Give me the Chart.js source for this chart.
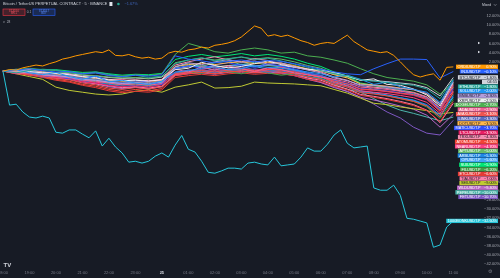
<!DOCTYPE html>
<html>
<head>
<meta charset="utf-8">
<script src="https://cdn.jsdelivr.net/npm/chart.js@4"></script>
<style>
  html, body { margin: 0; padding: 0; background: #171b25; }
  canvas { display: block; }
</style>
</head>
<body>
<canvas id="chart" width="500" height="278"></canvas>
<script>
// time axis: 18:00 -> 11:00 next day, one label per hour ("25" = midnight)
const hourLabels = ['18:00','19:00','20:00','21:00','22:00','23:00','25','01:00','02:00','03:00',
                    '04:00','05:00','06:00','07:00','08:00','09:00','10:00','11:00'];

// % change since 18:00; most series sampled every 30 min (35 values),
// the two outliers every 15 min (69 values)
const ordi  = [0,0.3,0.2,0.7,1.0,1.3,1.1,1.6,2.0,2.6,2.9,3.3,3.6,3.9,4.2,4.0,4.6,3.4,3.3,3.6,3.1,2.8,3.0,
               2.6,2.8,3.9,4.3,4.1,4.6,4.8,5.2,5.0,5.6,5.8,6.1,6.6,7.4,8.6,9.8,9.3,7.6,7.9,7.5,7.8,7.2,6.6,
               6.2,5.6,6.0,6.2,6.0,6.9,7.8,6.4,5.5,4.6,4.3,4.0,4.2,3.4,2.0,0.5,-0.8,-1.3,-0.9,-0.6,-2.0,0.8,0.9];
const inj   = [0,0.2,0.5,0.1,-0.2, -0.1,-0.6,-0.4,-1.0,-1.2, -0.9,-1.1,-0.8,3.3,2.6, 2.2,1.8,2.1,2.4,2.0, 2.3,2.1,1.6,1.0,0.4, -0.2,-0.6,-0.8,0.5,1.6, 2.6,2.6,2.5,-1.5,-0.1];
const btc   = [0,-0.1,0.2,-0.3,-0.4, -0.6,-0.9,-1.1,-1.4,-1.6, -1.5,-1.7,-1.3,0.6,0.9, 1.1,0.9,1.2,1.4,1.1, 1.3,1.2,0.8,0.3,0.0, -0.7,-1.1,-2.0,-2.1,-2.3, -2.6,-2.9,-3.6,-5.4,-1.4];
const eth   = [0,-0.4,0.1,0.4,0.2, -0.3,-0.6,-0.2,-0.7,-1.3, -0.9,-1.4,-1.1,1.6,2.4, 2.9,2.2,2.6,3.1,2.5, 2.8,2.2,1.5,0.8,0.1, -0.6,-1.0,-1.9,-2.2,-2.5, -2.8,-3.1,-3.9,-6.0,-1.8];
const sol   = [0,0.3,-0.4,-0.8,-0.3, -1.2,-1.8,-1.1,-2.3,-2.0, -2.6,-2.9,-2.2,-0.2,0.1, 0.6,0.9,0.3,0.5,1.2, 0.8,0.6,0.2,-0.2,-0.6, -1.3,-0.9,-1.8,-2.9,-2.4, -3.4,-4.0,-4.6,-6.8,-2.0];
const bnb   = [0,-0.2,-0.3,-0.8,-1.0, -1.3,-1.8,-2.0,-2.4,-2.7, -2.5,-2.8,-2.3,0.9,1.8, 1.4,2.0,2.5,1.9,2.2, 1.5,1.8,0.9,0.2,-0.4, -1.5,-2.1,-3.0,-3.1,-3.4, -3.8,-4.0,-4.9,-7.1,-2.3];
const xrp   = [0,0.1,-0.1,-0.4,-0.5, -0.8,-1.2,-1.5,-1.9,-2.1, -2.0,-2.2,-1.9,0.3,0.6, 1.9,1.2,0.7,1.0,1.6, 2.2,1.4,0.9,0.4,0.2, -0.3,-1.1,-2.0,-1.7,-2.9, -3.1,-3.9,-5.2,-7.6,-2.5];
const doge  = [0,0.3,0.6,0.3,0.1, -0.2,-0.5,-0.4,-0.9,-1.1, -0.8,-1.0,-0.6,3.6,6.0, 5.2,4.2,3.9,4.6,5.0, 4.6,3.9,4.1,3.3,3.0, 2.4,1.7,0.5,-0.6,-1.4, -1.8,-2.2,-3.0,-5.0,-2.7];
const ada   = [0,-0.5,-0.4,-0.9,-1.2, -1.4,-2.0,-2.2,-2.6,-3.0, -2.8,-3.1,-2.7,0.4,-0.2, 0.9,0.2,1.1,0.5,-0.1, 0.7,0.3,-0.4,-0.8,-1.3, -1.8,-2.4,-3.5,-3.7,-4.0, -4.4,-4.7,-5.6,-8.0,-2.9];
const avax  = [0,-0.3,-0.7,-1.2,-1.6, -1.9,-2.6,-3.0,-3.7,-4.0, -3.6,-3.9,-3.4,-0.6,-0.2, 0.1,-0.2,0.2,0.4,0.1, 0.3,0.2,-0.2,-0.9,-1.3, -2.2,-2.8,-3.9,-4.1,-4.4, -4.8,-5.1,-6.0,-8.6,-3.1];
const link  = [0,0.2,0.0,-0.5,-0.9, -1.0,-1.5,-1.8,-2.2,-2.5, -2.3,-2.6,-2.2,-0.4,0.0, 0.3,-0.2,0.4,0.9,0.3, -0.3,0.2,0.0,-0.6,-0.9, -1.9,-2.9,-3.0,-4.1,-3.6, -4.0,-5.2,-5.9,-7.2,-3.3];
const dot   = [0,-0.1,-0.4,-0.7,-0.6, -1.1,-1.3,-1.7,-2.1,-2.2, -2.4,-2.5,-2.1,1.0,1.4, 1.7,1.4,1.8,2.0,1.6, 1.9,1.7,1.2,0.4,0.1, -0.8,-1.5,-2.8,-3.0,-3.3, -3.7,-4.1,-5.0,-7.3,-3.5];
const matic = [0,-0.2,-0.6,-1.3,-0.9, -1.8,-1.4,-1.1,-2.0,-2.8, -2.1,-2.4,-2.9,0.5,1.1, 0.7,1.3,1.8,1.2,0.8, 1.5,1.1,0.5,-0.3,-1.0, -2.0,-2.7,-3.8,-4.0,-4.3, -4.7,-5.0,-5.9,-8.3,-3.7];
const ltc   = [0,-0.6,-0.5,-1.0,-1.4, -1.7,-2.3,-2.6,-3.1,-3.4, -3.2,-3.5,-3.0,-0.3,0.1, 0.3,0.0,0.4,0.6,0.2, 0.5,0.3,-0.1,-0.8,-1.2, -2.1,-2.8,-4.0,-4.2,-4.5, -4.9,-5.3,-6.2,-8.8,-3.9];
const trx   = [0,0.1,0.3,-0.2,-0.6, -0.7,-1.2,-1.4,-1.8,-2.0, -1.9,-2.1,-1.8,1.3,2.0, 2.6,3.1,2.4,2.0,2.7, 2.3,1.6,1.0,0.5,-0.2, -1.3,-2.0,-3.2,-3.5,-3.8, -4.3,-4.7,-5.7,-8.1,-4.3];
const atom  = [0,-0.4,-0.8,-1.3,-1.8, -2.2,-2.9,-3.3,-4.0,-4.4, -4.0,-4.3,-3.8,-1.0,-0.6, -0.3,-0.6,-0.2,0.0,-0.3, -0.1,-0.2,-0.6,-1.3,-1.8, -2.8,-3.5,-4.7,-5.0,-5.4, -6.0,-6.6,-7.6,-10.0,-4.5];
const near  = [0,-0.2,-0.9,-0.5,-1.4, -1.0,-1.7,-2.6,-2.1,-1.8, -2.5,-2.2,-2.0,-0.8,-0.4, 0.4,0.9,0.2,0.6,-0.2, 0.3,0.8,0.1,-0.7,-1.2, -2.5,-3.2,-4.3,-4.6,-4.9, -5.3,-5.8,-6.8,-9.2,-4.7];
const apt   = [0,0.4,0.2,-0.1,-0.4, -0.3,-0.8,-1.0,-1.3,-1.5, -1.4,-1.6,-1.2,1.8,2.4, 2.8,2.4,2.7,3.0,2.6, 2.9,2.6,2.0,1.2,0.6, -0.5,-1.3,-2.8,-3.2,-3.6, -4.1,-4.6,-5.6,-8.0,-5.0];
const arb   = [0,-0.3,-0.6,-1.0,-1.5, -1.5,-2.1,-2.5,-2.9,-3.3, -3.1,-3.4,-2.9,-0.5,-0.1, 0.0,-0.3,0.1,0.3,-0.1, 0.2,0.0,-0.4,-1.2,-1.7, -2.7,-3.5,-4.6,-4.9,-5.3, -5.8,-6.3,-7.3,-9.6,-5.3];
const op    = [0,-0.1,-0.2,-0.7,-0.9, -1.2,-1.6,-2.1,-2.5,-2.8, -2.6,-2.9,-2.5,0.6,1.2, 0.8,0.2,0.9,1.5,1.0, 0.4,0.9,0.3,-0.5,-1.0, -2.3,-3.1,-4.3,-4.7,-5.2, -5.8,-6.4,-7.5,-9.9,-5.6];
const sui   = [0,0.2,0.5,0.2,0.3, 0.0,-0.3,-0.2,-0.6,-0.9, -0.7,-0.8,-0.5,2.5,3.2, 3.6,3.1,3.4,3.8,3.3, 3.6,3.2,2.6,1.7,1.0, -0.2,-1.1,-2.6,-3.1,-3.6, -4.3,-4.9,-6.0,-8.5,-5.9];
const fil   = [0,-0.4,-0.3,-0.9,-1.0, -1.4,-1.9,-2.3,-2.8,-3.0, -2.9,-3.2,-2.8,-0.6,-0.2, -0.5,0.3,-0.1,-0.6,0.1, -0.4,-0.9,-0.6,-1.2,-1.6, -2.5,-3.3,-4.5,-4.9,-5.4, -6.0,-6.6,-7.8,-10.3,-6.2];
const etc   = [0,-0.5,-0.9,-1.4,-2.0, -2.4,-3.1,-3.6,-4.3,-4.7, -4.4,-4.6,-4.1,-1.4,-1.0, -0.7,-1.0,-0.6,-0.4,-0.7, -0.5,-0.6,-1.0,-1.8,-2.3, -3.3,-4.1,-5.3,-5.7,-6.2, -6.8,-7.5,-8.6,-11.0,-6.6];
const tia   = [0,-0.3,-0.4,-1.0,-1.3, -1.6,-2.2,-2.7,-3.2,-3.6, -3.4,-3.7,-3.3,-0.8,-0.4, -0.2,-0.5,-0.1,0.1,-0.3, 0.0,-0.2,-0.6,-1.5,-2.0, -3.1,-3.9,-5.1,-5.5,-6.0, -6.6,-7.3,-8.5,-11.2,-7.0];
const sei   = [0,-0.6,-1.2,-1.8,-3.5, -4.2,-4.6,-5.0,-5.2,-5.0, -4.4,-4.1,-4.6,-3.5,-3.0, -2.4,-3.7,-3.6,-3.3,-2.4, -2.6,-2.7,-2.8,-3.0,-3.2, -4.0,-4.8,-5.9,-7.0,-7.3, -7.8,-8.2,-8.6,-9.3,-9.0];
const wld   = [0,-0.2,-0.7,-1.1,-1.5, -1.8,-2.4,-2.8,-3.4,-3.8, -3.5,-3.9,-3.4,-1.0,-0.6, -0.4,-0.7,-0.3,-0.1,-0.4, -0.2,-0.5,-1.0,-1.8,-2.5, -3.6,-4.4,-5.7,-6.3,-6.9, -7.6,-8.3,-9.6,-12.2,-9.4];
const pepe  = [0,0.1,-0.3,-0.6,-0.8, -1.2,-1.7,-1.9,-2.4,-2.6, -2.5,-2.8,-2.4,0.9,1.6, 1.0,1.8,2.2,1.4,1.9, 1.2,0.9,0.2,-0.6,-1.6, -2.9,-4.0,-4.6,-6.0,-7.4, -8.5,-9.2,-10.0,-10.8,-10.0];
const fet   = [0,-0.3,-0.5,-0.8,-1.2, -1.4,-1.9,-2.2,-2.7,-3.0, -2.8,-3.0,-2.6,-0.8,0.3, -0.3,0.6,0.1,-0.4,0.5, 0.0,-0.4,-0.9,-1.5,-2.4, -3.4,-4.5,-5.7,-7.2,-8.9, -10.2,-12.2,-13.5,-13.9,-10.7];
const bonk  = [0,-7.4,-7.2,-8.9,-10.0,-10.2,-9.8,-10.2,-13.3,-13.5,-12.8,-12.8,-13.7,-14.5,-13.0,-16.3,
               -14.6,-16.5,-17.8,-19.8,-19.6,-20.0,-19.6,-18.5,-17.8,-18.7,-16.1,-14.0,-17.0,-17.6,-19.6,
               -22.0,-22.2,-21.7,-21.1,-21.1,-21.3,-20.0,-19.8,-20.2,-20.4,-18.7,-20.6,-20.4,-20.2,-18.7,
               -16.7,-17.4,-17.4,-15.9,-13.9,-12.8,-15.7,-16.7,-16.5,-16.3,-25.4,-25.9,-25.9,-24.8,-27.0,
               -32.0,-32.2,-32.6,-33.0,-38.3,-37.8,-33.9,-32.6];

const MAIN = 'BTCUSDT.P';

// [symbol, values, line colour]
const seriesList = [
  ['ORDIUSDT.P', ordi, '#ff9800'],
  ['INJUSDT.P', inj, '#2962ff'],
  ['ETHUSDT.P', eth, '#26a69a'],
  ['SOLUSDT.P', sol, '#2196f3'],
  ['BNBUSDT.P', bnb, '#b39ddb'],
  ['XRPUSDT.P', xrp, '#eceff1'],
  ['DOGEUSDT.P', doge, '#4caf50'],
  ['ADAUSDT.P', ada, '#f06292'],
  ['AVAXUSDT.P', avax, '#ef5350'],
  ['LINKUSDT.P', link, '#5c6bc0'],
  ['DOTUSDT.P', dot, '#ffb74d'],
  ['MATICUSDT.P', matic, '#304ffe'],
  ['LTCUSDT.P', ltc, '#e91e63'],
  ['TRXUSDT.P', trx, '#f48fb1'],
  ['ATOMUSDT.P', atom, '#f44336'],
  ['NEARUSDT.P', near, '#ff4081'],
  ['APTUSDT.P', apt, '#66bb6a'],
  ['ARBUSDT.P', arb, '#1e88e5'],
  ['OPUSDT.P', op, '#42a5f5'],
  ['SUIUSDT.P', sui, '#00e676'],
  ['FILUSDT.P', fil, '#43a047'],
  ['ETCUSDT.P', etc, '#e53935'],
  ['TIAUSDT.P', tia, '#ff80ab'],
  ['SEIUSDT.P', sei, '#c0ca33'],
  ['WLDUSDT.P', wld, '#ba68c8'],
  ['PEPEUSDT.P', pepe, '#4db6ac'],
  ['FETUSDT.P', fet, '#7e57c2'],
  [MAIN, btc, '#d1d4dc'],
  ['1000BONKUSDT.P', bonk, '#26c6da'],
];

const FONT = '"Liberation Sans", Arial, sans-serif';
const pct = v => (v < 0 ? '\u2212' : '') + Math.abs(v).toFixed(2) + '%';

const datasets = seriesList.map(([name, vals, color]) => {
  const step = (hourLabels.length - 1) / (vals.length - 1);
  return {
    label: name,
    data: vals.map((v, i) => ({ x: i * step, y: v })),
    borderColor: color,
    borderWidth: 1,
    pointRadius: 0,
    tension: 0,
    fill: false
  };
});

function isLight(hex) {
  const n = parseInt(hex.slice(1), 16);
  const r = n >> 16, g = (n >> 8) & 255, b = n & 255;
  return (0.299 * r + 0.587 * g + 0.114 * b) > 170;
}

// stacked last-value tags on the price scale, like TradingView does
const tagPlugin = {
  id: 'tags',
  afterDatasetsDraw(chart) {
    const { ctx, scales: { y } } = chart;
    const H = 4.6;
    const right = 498;
    const items = chart.data.datasets
      .map(ds => ({ ds, last: ds.data[ds.data.length - 1].y }))
      .sort((a, b) => b.last - a.last);
    ctx.save();
    ctx.font = '3.8px ' + FONT;
    ctx.textBaseline = 'middle';
    let prevBottom = -Infinity;
    for (const it of items) {
      const main = it.ds.label === MAIN;
      const h = main ? H * 2 : H;
      const top = Math.max(y.getPixelForValue(it.last) - H / 2, prevBottom);
      prevBottom = top + h;
      const valTxt = pct(it.last);
      const valW = 15;
      const nameW = ctx.measureText(it.ds.label).width;
      const left = right - valW - nameW - 4;
      const col = it.ds.borderColor;
      ctx.fillStyle = col;
      ctx.fillRect(left, top, right - left, H - 0.3);
      if (main) ctx.fillRect(right - valW - 1, top + H, valW + 1, H - 0.3);
      ctx.fillStyle = isLight(col) ? '#131722' : '#ffffff';
      ctx.textAlign = 'left';
      ctx.fillText(it.ds.label, left + 1.5, top + H / 2);
      ctx.textAlign = 'right';
      ctx.fillText(valTxt, right - 1, top + H / 2);
      if (main) ctx.fillText('04:55', right - 1, top + H * 1.5);
    }
    ctx.restore();
  }
};

// background + TradingView header / footer bits
const chromePlugin = {
  id: 'chrome',
  beforeDraw(chart) {
    const { ctx, width, height } = chart;
    ctx.save();
    ctx.fillStyle = '#171b25';
    ctx.fillRect(0, 0, width, height);
    ctx.restore();
  },
  afterDraw(chart) {
    const { ctx } = chart;
    ctx.save();
    ctx.textBaseline = 'middle';
    ctx.font = '3.9px ' + FONT;
    ctx.fillStyle = '#d1d4dc';
    const title = 'Bitcoin / TetherUS PERPETUAL CONTRACT \u00b7 5 \u00b7 BINANCE';
    ctx.fillText(title, 3, 4);
    let x = 3 + ctx.measureText(title).width + 2;
    ctx.fillStyle = '#e0e3eb';
    ctx.fillRect(x, 2, 3, 4);
    ctx.fillStyle = '#22ab94';
    ctx.beginPath(); ctx.arc(x + 9, 4, 1.3, 0, Math.PI * 2); ctx.fill();
    ctx.fillStyle = '#3d63b8';
    ctx.fillText('\u22121.67%', x + 15, 4);

    // sell / buy boxes
    ctx.lineWidth = 0.6;
    ctx.strokeStyle = '#f23645'; ctx.fillStyle = 'rgba(242,54,69,0.22)';
    ctx.fillRect(3, 9, 22, 6.5); ctx.strokeRect(3, 9, 22, 6.5);
    ctx.strokeStyle = '#2962ff'; ctx.fillStyle = 'rgba(41,98,255,0.22)';
    ctx.fillRect(33, 9, 22, 6.5); ctx.strokeRect(33, 9, 22, 6.5);
    ctx.font = '2.6px ' + FONT;
    ctx.textAlign = 'center';
    ctx.fillStyle = '#f7525f';
    ctx.fillText('87,318.6', 14, 11);
    ctx.fillText('SELL', 14, 13.6);
    ctx.fillStyle = '#5b8cff';
    ctx.fillText('87,318.7', 44, 11);
    ctx.fillText('BUY', 44, 13.6);
    ctx.fillStyle = '#b2b5be';
    ctx.font = '3.2px ' + FONT;
    ctx.fillText('0.1', 29, 12.3);
    ctx.textAlign = 'left';
    ctx.fillText('\u02c5  28', 3, 22);

    // scale mode button
    ctx.fillStyle = '#d1d4dc';
    ctx.font = '3.4px ' + FONT;
    ctx.fillText('Mixed', 482, 5);
    ctx.strokeStyle = '#d1d4dc'; ctx.lineWidth = 0.5;
    ctx.beginPath(); ctx.moveTo(494, 4.3); ctx.lineTo(495.2, 5.5); ctx.lineTo(496.4, 4.3); ctx.stroke();

    // small markers on the scale
    ctx.fillStyle = '#e0e3eb';
    for (const yy of [43, 52]) {
      ctx.beginPath(); ctx.moveTo(478, yy - 1.3); ctx.lineTo(480.2, yy); ctx.lineTo(478, yy + 1.3); ctx.fill();
    }

    // logo + settings
    ctx.font = 'bold 6px ' + FONT;
    ctx.fillStyle = '#d1d4dc';
    ctx.fillText('TV', 3.5, 265);
    ctx.font = '5px "DejaVu Sans"';
    ctx.fillStyle = '#787b86';
    ctx.fillText('\u2699', 488, 272);
    ctx.restore();
  }
};

new Chart(document.getElementById('chart'), {
  type: 'line',
  data: { datasets },
  options: {
    responsive: false,
    animation: false,
    layout: { padding: { top: 8, left: 0, right: 0, bottom: 0 } },
    plugins: { legend: { display: false }, tooltip: { enabled: false } },
    scales: {
      x: {
        type: 'linear',
        min: -0.11,
        max: 17.97,
        grid: { display: false, drawTicks: false },
        border: { display: false },
        afterFit: s => { s.height = 10; s.paddingLeft = 0; s.paddingRight = 0; },
        ticks: {
          stepSize: 1,
          autoSkip: false,
          maxRotation: 0,
          includeBounds: false,
          padding: 2,
          color: ctx => (ctx.tick && ctx.tick.value === 6 ? '#d1d4dc' : '#787b86'),
          font: ctx => ({ size: 4, family: FONT, weight: ctx.tick && ctx.tick.value === 6 ? 'bold' : 'normal' }),
          callback: v => hourLabels[v] ?? ''
        }
      },
      y: {
        position: 'right',
        min: -42.8,
        max: 13.7,
        grid: { display: false, drawTicks: false },
        border: { display: false },
        afterFit: s => { s.width = 21; },
        ticks: {
          stepSize: 2,
          includeBounds: false,
          crossAlign: 'far',
          padding: 2,
          color: '#a3a6af',
          font: { size: 4, family: FONT },
          callback: v => pct(v)
        }
      }
    }
  },
  plugins: [chromePlugin, tagPlugin]
});
</script>
</body>
</html>
